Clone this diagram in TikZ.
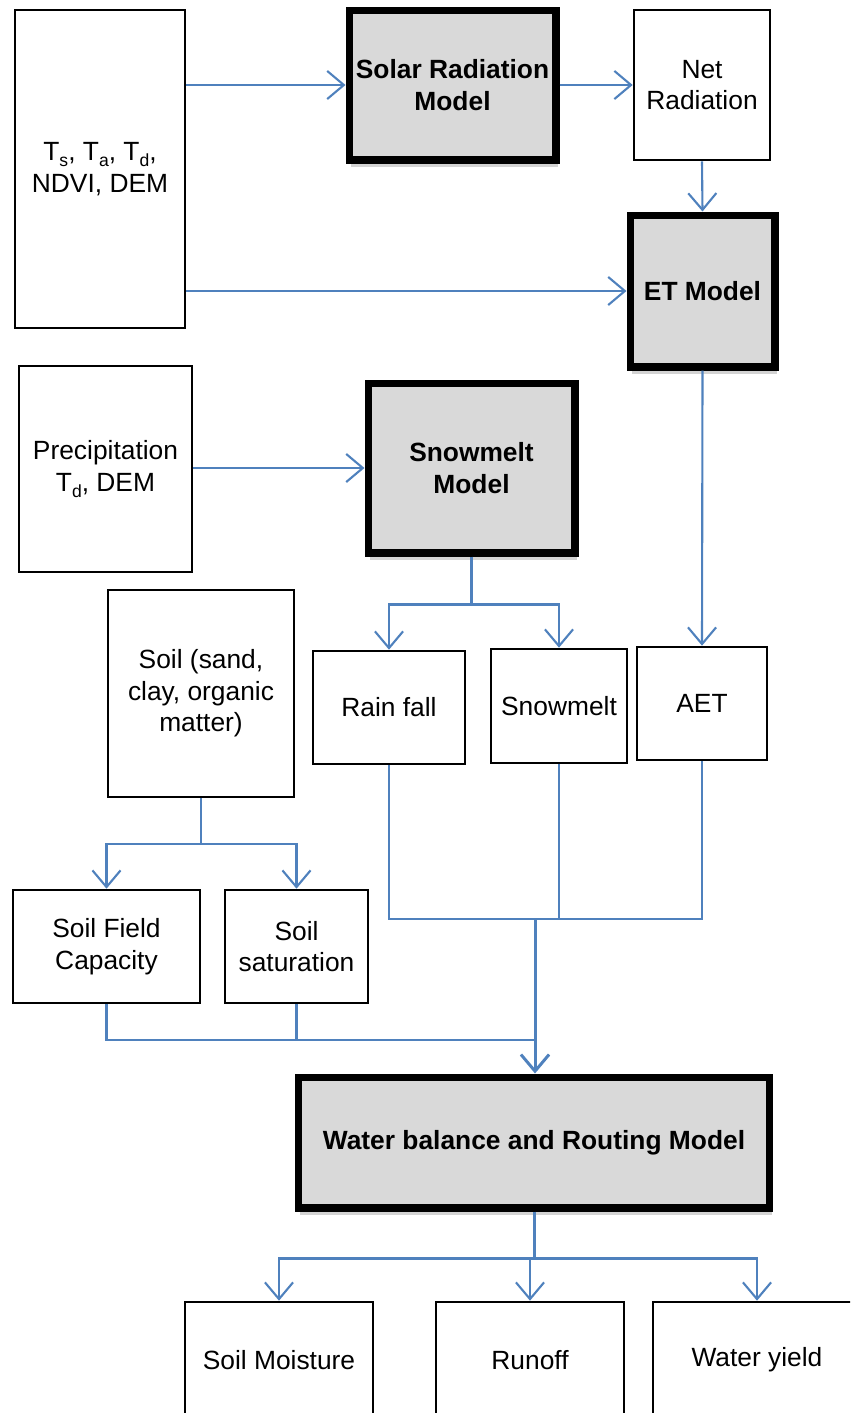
\documentclass[tikz,border=0pt]{standalone}
\usepackage{fontspec}
\setmainfont{Liberation Sans}
\usepackage{tikz}
\usetikzlibrary{arrows.meta,positioning,shadows,calc}
\definecolor{flowblue}{HTML}{4F81BD}
\definecolor{modelgray}{HTML}{D9D9D9}
\newcommand{\lowsub}[1]{\raisebox{-0.45ex}{\fontsize{10}{10}\selectfont #1}}

\begin{document}
\begin{tikzpicture}[x=0.02cm,y=-0.02cm,
    databox/.style={draw=black,line width=1.5pt,fill=white,align=center,inner sep=2pt,
      font=\fontsize{15}{18}\selectfont},
    modelbox/.style={draw=black,line width=4pt,fill=modelgray,align=center,inner sep=2pt,
      font=\fontsize{15}{18}\selectfont\bfseries,
      drop shadow={shadow xshift=0.4mm,shadow yshift=-1.4mm,opacity=0.35}},
    link/.style={flowblue,line width=1.2pt},
    flow/.style={link,-{Straight Barb[length=9.5pt,width=16pt]}}]
      \clip (0,0) rectangle (850,1413);
      % inputs and models
      \node[databox,minimum width=3.4cm,minimum height=6.36cm] (inputs) at (100,169)
        {T\lowsub{s}, T\lowsub{a}, T\lowsub{d},\\NDVI, DEM};
      \node[modelbox,minimum width=4.14cm,minimum height=3.0cm] (solar) at (452.5,85)
        {Solar Radiation\\Model};
      \node[databox,minimum width=2.72cm,minimum height=3.0cm] (netrad) at (702,85)
        {Net\\Radiation};
      \node[modelbox,minimum width=2.9cm,minimum height=3.04cm] (et) at (702.5,291)
        {ET Model};
      \node[databox,minimum width=3.46cm,minimum height=4.12cm] (precip) at (105.5,469)
        {Precipitation\\T\lowsub{d}, DEM};
      \node[modelbox,minimum width=4.14cm,minimum height=3.4cm] (snowmodel) at (471.5,468)
        {Snowmelt\\Model};
      \node[databox,minimum width=3.72cm,minimum height=4.14cm] (soil) at (201,693.5)
        {Soil (sand,\\clay, organic\\matter)};
      \node[databox,minimum width=3.04cm,minimum height=2.26cm] (rain) at (389,707.5) {Rain fall};
      \node[databox,minimum width=2.72cm,minimum height=2.28cm] (snow) at (559,706) {Snowmelt};
      \node[databox,minimum width=2.6cm,minimum height=2.26cm] (aet) at (702,703.5) {AET};
      \node[databox,minimum width=3.74cm,minimum height=2.26cm] (fieldcap) at (106.5,946.5)
        {Soil Field\\Capacity};
      \node[databox,minimum width=2.86cm,minimum height=2.26cm] (saturation) at (296.5,946.5)
        {Soil\\saturation};
      \node[modelbox,minimum width=9.44cm,minimum height=2.62cm] (balance) at (534,1142.5)
        {Water balance and Routing Model};
      \node[databox,minimum width=3.76cm,minimum height=2.32cm] (moisture) at (279,1360) {Soil Moisture};
      \node[databox,minimum width=3.76cm,minimum height=2.32cm] (runoff) at (530,1360) {Runoff};
      \node[databox,minimum width=4.16cm,minimum height=2.32cm] (yield) at (757,1360) {Water yield};
      % radiation and ET
      \draw[flow] (solar.west -| inputs.east) -- (solar.west);
      \draw[flow] (solar.east) -- (netrad.west);
      \draw[flow] (netrad.south) -- (et.north);
      \draw[flow] (et.west -| inputs.east) -- (et.west);
      \draw[flow] (et.south) -- (aet.north);
      % snow
      \draw[flow] (snowmodel.west -| precip.east) -- (snowmodel.west);
      \draw[link] (snowmodel.south) -- ++(0,48) coordinate (snowsplit);
      \foreach \n in {rain,snow}
        \draw[flow] (snowsplit) -| (\n.north);
      % soil
      \draw[link] (soil.south) -- ++(0,46) coordinate (soilsplit);
      \foreach \n in {fieldcap,saturation}
        \draw[flow] (soilsplit) -| (\n.north);
      % merge into water balance
      \coordinate (merge) at (535,919);
      \coordinate (soilmerge) at (535,1040);
      \draw[link] (rain.south) |- (merge);
      \draw[link] (aet.south) |- (merge);
      \draw[link] (snow.south) -- (snow.south |- merge);
      \draw[link] (fieldcap.south) |- (soilmerge);
      \draw[link] (saturation.south) -- (saturation.south |- soilmerge);
      \draw[flow,line width=1.7pt] (merge) -- (merge |- balance.north);
      % outputs
      \draw[link,line width=1.7pt] (balance.south) -- ++(0,47) coordinate (outsplit);
      \foreach \n in {moisture,runoff,yield}
        \draw[flow] (outsplit) -| (\n.north);
    \end{tikzpicture}
\end{document}
